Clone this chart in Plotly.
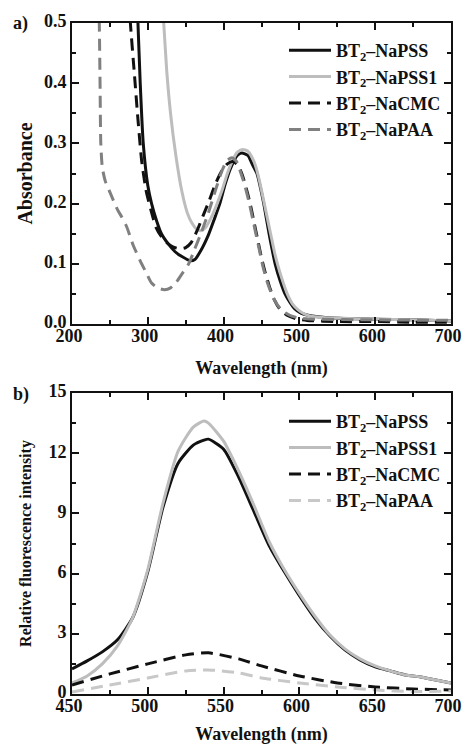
import plotly.graph_objects as go

# ---------- Panel a: absorbance ----------
wl_pss = [280, 287, 290, 294, 300, 305, 312, 318, 327, 336, 345, 356, 362, 370, 380, 388, 395, 402, 409, 418, 424, 432, 438, 444, 448, 453, 460, 468, 475, 481, 488, 494, 502, 510, 525, 545, 600, 650, 700]
abs_pss = [0.7, 0.5, 0.4, 0.3, 0.23, 0.2, 0.17, 0.15, 0.133, 0.12, 0.112, 0.105, 0.107, 0.122, 0.148, 0.175, 0.2, 0.232, 0.258, 0.28, 0.284, 0.28, 0.265, 0.25, 0.23, 0.2, 0.15, 0.1, 0.07, 0.05, 0.035, 0.025, 0.018, 0.015, 0.012, 0.01, 0.008, 0.007, 0.005]

wl_pss1 = [318, 321, 325, 330, 337, 345, 352, 358, 364, 370, 376, 383, 390, 398, 405, 412, 418, 425, 432, 440, 446, 452, 457, 462, 467, 471, 477, 484, 491, 498, 506, 515, 530, 550, 600, 650, 700]
abs_pss1 = [0.55, 0.5, 0.42, 0.35, 0.28, 0.22, 0.185, 0.168, 0.158, 0.155, 0.16, 0.175, 0.195, 0.222, 0.25, 0.272, 0.285, 0.29, 0.287, 0.27, 0.245, 0.21, 0.18, 0.15, 0.12, 0.1, 0.075, 0.05, 0.033, 0.024, 0.017, 0.013, 0.011, 0.01, 0.008, 0.007, 0.005]

wl_cmc = [272, 277, 282, 287, 292, 298, 304, 311, 318, 325, 333, 342, 350, 357, 365, 373, 381, 390, 398, 405, 412, 418, 424, 430, 435, 440, 445, 450, 455, 461, 467, 474, 483, 495, 510, 550, 600, 650, 700]
abs_cmc = [0.6, 0.5, 0.42, 0.34, 0.27, 0.22, 0.19, 0.16, 0.145, 0.135, 0.128, 0.125, 0.127, 0.135, 0.155, 0.18, 0.205, 0.235, 0.255, 0.266, 0.27, 0.265, 0.25, 0.225, 0.2, 0.17, 0.14, 0.11, 0.085, 0.06, 0.04, 0.025, 0.015, 0.009, 0.006, 0.004, 0.004, 0.003, 0.003]

wl_paa = [234, 236, 237, 238, 240, 244, 249, 254, 260, 266, 272, 281, 290, 298, 305, 313, 322, 330, 338, 346, 354, 362, 370, 380, 390, 398, 405, 411, 417, 423, 428, 434, 440, 446, 452, 458, 465, 472, 480, 490, 500, 520, 600, 700]
abs_paa = [0.6, 0.5, 0.4, 0.3, 0.26, 0.237, 0.222, 0.207, 0.19, 0.177, 0.162, 0.13, 0.105, 0.085, 0.068, 0.06, 0.057, 0.06, 0.07, 0.085, 0.1, 0.125, 0.15, 0.185, 0.225, 0.255, 0.272, 0.276, 0.27, 0.25, 0.23, 0.2, 0.165, 0.13, 0.095, 0.068, 0.045, 0.03, 0.02, 0.013, 0.01, 0.008, 0.007, 0.006]

# ---------- Panel b: fluorescence ----------
wl_f = [450, 460, 470, 480, 490, 500, 510, 520, 530, 537, 540, 550, 560, 570, 580, 590, 600, 610, 620, 630, 640, 650, 660, 670, 680, 690, 700]
fl_pss = [1.25, 1.65, 2.1, 2.7, 3.8, 6.1, 9.3, 11.5, 12.4, 12.65, 12.7, 12.2, 10.8, 9.1, 7.4, 6.1, 4.9, 3.8, 2.9, 2.2, 1.7, 1.35, 1.15, 0.95, 0.85, 0.7, 0.55]
fl_pss1 = [0.55, 0.9, 1.5, 2.4, 3.8, 6.2, 9.5, 12.1, 13.3, 13.6, 13.5, 12.6, 11.1, 9.4, 7.6, 6.2, 5.0, 3.9, 2.95, 2.25, 1.75, 1.4, 1.15, 0.95, 0.85, 0.7, 0.55]
wl_f2 = [450, 475, 500, 525, 540, 560, 575, 600, 625, 650, 675, 700]
fl_cmc = [0.45, 1.0, 1.5, 1.95, 2.05, 1.75, 1.4, 0.9, 0.55, 0.35, 0.25, 0.2]
fl_paa = [0.1, 0.45, 0.8, 1.15, 1.2, 1.05, 0.8, 0.55, 0.35, 0.2, 0.12, 0.15]

names = ["BT<sub>2</sub>–NaPSS", "BT<sub>2</sub>–NaPSS1", "BT<sub>2</sub>–NaCMC", "BT<sub>2</sub>–NaPAA"]

FONT = "Liberation Serif"
DASH = "12px,7px"
INK = "#111111"

fig = go.Figure()

styles_a = [(INK, "solid"), ("#bdbdbd", "solid"), (INK, DASH), ("#808080", DASH)]
data_a = [(wl_pss, abs_pss), (wl_pss1, abs_pss1), (wl_cmc, abs_cmc), (wl_paa, abs_paa)]
for i, ((x, y), (c, d)) in enumerate(zip(data_a, styles_a)):
    fig.add_trace(go.Scatter(x=x, y=y, mode="lines", name=names[i],
                             line=dict(color=c, dash=d, width=3, shape="spline", smoothing=0.6),
                             xaxis="x", yaxis="y", legend="legend", legendgroup="a%d" % i))

styles_b = [(INK, "solid"), ("#bdbdbd", "solid"), (INK, DASH), ("#c8c8c8", DASH)]
data_b = [(wl_f, fl_pss), (wl_f, fl_pss1), (wl_f2, fl_cmc), (wl_f2, fl_paa)]
for i, ((x, y), (c, d)) in enumerate(zip(data_b, styles_b)):
    fig.add_trace(go.Scatter(x=x, y=y, mode="lines", name=names[i],
                             line=dict(color=c, dash=d, width=3, shape="spline", smoothing=0.6),
                             xaxis="x2", yaxis="y2", legend="legend2", legendgroup="b%d" % i))

W, H = 463, 745
def px_x(p):
    return p / W
def px_y(p):
    return 1 - p / H

tickfont = dict(family=FONT, size=18, color=INK, weight="bold")

def axis(rng, dtick, minor_dtick, domain, anchor, title, tsize, standoff, fmt=None, shift=0, lstand=0):
    d = dict(range=rng, dtick=dtick, tick0=rng[0], domain=domain, anchor=anchor,
             showline=True, linewidth=2, linecolor=INK, mirror="allticks",
             ticks="inside", ticklen=7, tickwidth=2, tickcolor=INK,
             minor=dict(ticks="inside", ticklen=4, tickwidth=1.5, dtick=minor_dtick, tickcolor=INK),
             showgrid=False, zeroline=False, tickfont=tickfont, automargin=False,
             ticklabelstandoff=lstand, ticklabeloverflow="allow", ticklabelshift=shift,
             title=dict(text=title, font=dict(family=FONT, size=tsize, color=INK, weight="bold"), standoff=standoff))
    if fmt:
        d["tickformat"] = fmt
    return d

xa_dom = [px_x(72), px_x(451)]
legfont = dict(family=FONT, size=18, color=INK, weight="bold")
fig.update_layout(
    width=W, height=H,
    margin=dict(l=0, r=0, t=0, b=0, autoexpand=False),
    paper_bgcolor="white", plot_bgcolor="white",
    xaxis=axis([200, 700], 100, 50, xa_dom, "y", "Wavelength (nm)", 18, 17, shift=-3, lstand=-6),
    yaxis=axis([0, 0.5], 0.1, 0.05, [px_y(324), px_y(23)], "x", "Absorbance", 20, 6, ".1f", shift=-2),
    xaxis2=axis([450, 700], 50, 25, xa_dom, "y2", "Wavelength (nm)", 18, 19, shift=-3, lstand=-6),
    yaxis2=axis([0, 15], 3, 1.5, [px_y(694), px_y(393)], "x2", "Relative fluorescence intensity", 16, 13, shift=-2),
    legend=dict(x=px_x(284), y=px_y(32), xanchor="left", yanchor="top", bgcolor="rgba(0,0,0,0)",
                font=legfont, itemwidth=42, tracegroupgap=0),
    legend2=dict(x=px_x(284), y=px_y(403), xanchor="left", yanchor="top", bgcolor="rgba(0,0,0,0)",
                 font=legfont, itemwidth=42, tracegroupgap=0),
    annotations=[
        dict(text="a)", x=px_x(11), y=px_y(24), xref="paper", yref="paper", xanchor="left", yanchor="middle",
             showarrow=False, font=dict(family=FONT, size=18, color=INK, weight="bold")),
        dict(text="b)", x=px_x(11), y=px_y(394), xref="paper", yref="paper", xanchor="left", yanchor="middle",
             showarrow=False, font=dict(family=FONT, size=18, color=INK, weight="bold")),
    ],
)

fig.write_html("out.html")
